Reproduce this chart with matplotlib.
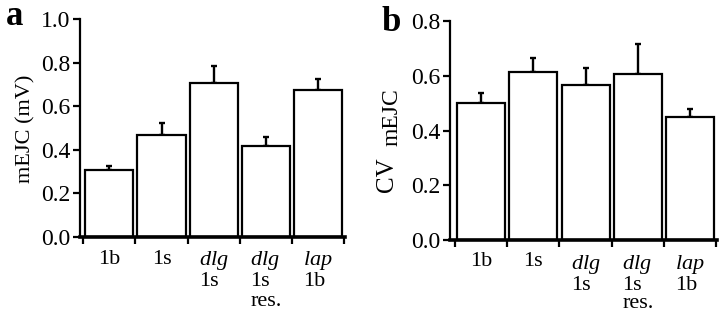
import matplotlib
matplotlib.use("Agg")
import matplotlib.pyplot as plt

plt.rcParams['font.family'] = ['Liberation Serif', 'DejaVu Serif']
plt.rcParams['mathtext.fontset'] = 'custom'
plt.rcParams['mathtext.rm'] = 'Liberation Serif'
plt.rcParams['mathtext.it'] = 'Liberation Serif:italic'

categories = ['1b', '1s', r'$\mathit{dlg}$' + '\n1s', r'$\mathit{dlg}$' + '\n1s\nres.', r'$\mathit{lap}$' + '\n1b']
mejc_mean = [0.307, 0.468, 0.705, 0.417, 0.674]
mejc_err = [0.019, 0.055, 0.081, 0.040, 0.051]
cv_mean = [0.502, 0.614, 0.567, 0.606, 0.448]
cv_err = [0.036, 0.052, 0.060, 0.109, 0.032]
yticks_a = [0.0, 0.2, 0.4, 0.6, 0.8, 1.0]
yticks_b = [0.0, 0.2, 0.4, 0.6, 0.8]

W, H = 720, 318
fig = plt.figure(figsize=(7.2, 3.18), dpi=100)

FS = 16
YFS = 17

def panel(rect, means, errs, yticks, xlim):
    ax = fig.add_axes(rect)
    x = list(range(len(means)))
    ax.bar(x, means, width=0.92, color='white', edgecolor='black', linewidth=1.6, zorder=3)
    ax.errorbar(x, means, yerr=[[0] * len(errs), errs], fmt='none', ecolor='black',
                elinewidth=1.7, capsize=2.5, capthick=1.7, zorder=2)
    ax.set_xlim(*xlim)
    ax.set_ylim(yticks[0], yticks[-1])
    ax.set_yticks(yticks)
    ax.set_yticklabels(['%.1f' % v for v in yticks], fontsize=YFS)
    ax.set_xticks([i - 0.5 for i in range(len(means) + 1)])
    ax.set_xticklabels([])
    for s in ['top', 'right']:
        ax.spines[s].set_visible(False)
    ax.spines['left'].set_linewidth(1.6)
    ax.spines['bottom'].set_linewidth(2.6)
    ax.spines['bottom'].set_zorder(4)
    ax.tick_params(axis='both', direction='out', length=5, width=1.6, pad=2)
    for xi, lab in zip(x, categories):
        ax.annotate(lab, xy=(xi, 0), xycoords=('data', 'axes fraction'),
                    xytext=(0, -9), textcoords='offset points',
                    ha='center', va='top', ma='left', fontsize=FS, linespacing=1.0,
                    annotation_clip=False)
    return ax

ax_a = panel([80 / W, 1 - 237 / H, 265 / W, 218 / H], mejc_mean, mejc_err, yticks_a, (-0.56, 4.51))
ax_b = panel([450 / W, 1 - 240 / H, 267 / W, 219 / H], cv_mean, cv_err, yticks_b, (-0.59, 4.51))

fig.text(26 / W, 1 - 129 / H, 'mEJC (mV)', rotation=90, ha='center', va='center', fontsize=16)
fig.text(387 / W, 1 - 175 / H, 'CV', rotation=90, ha='center', va='center', fontsize=18)
fig.text(392 / W, 1 - 117 / H, 'mEJC', rotation=90, ha='center', va='center', fontsize=17)

fig.text(6 / W, 1 - 25 / H, 'a', fontsize=25, fontweight='bold', ha='left', va='baseline')
fig.text(382 / W, 1 - 31 / H, 'b', fontsize=25, fontweight='bold', ha='left', va='baseline')

fig.savefig('out.png', dpi=100)
